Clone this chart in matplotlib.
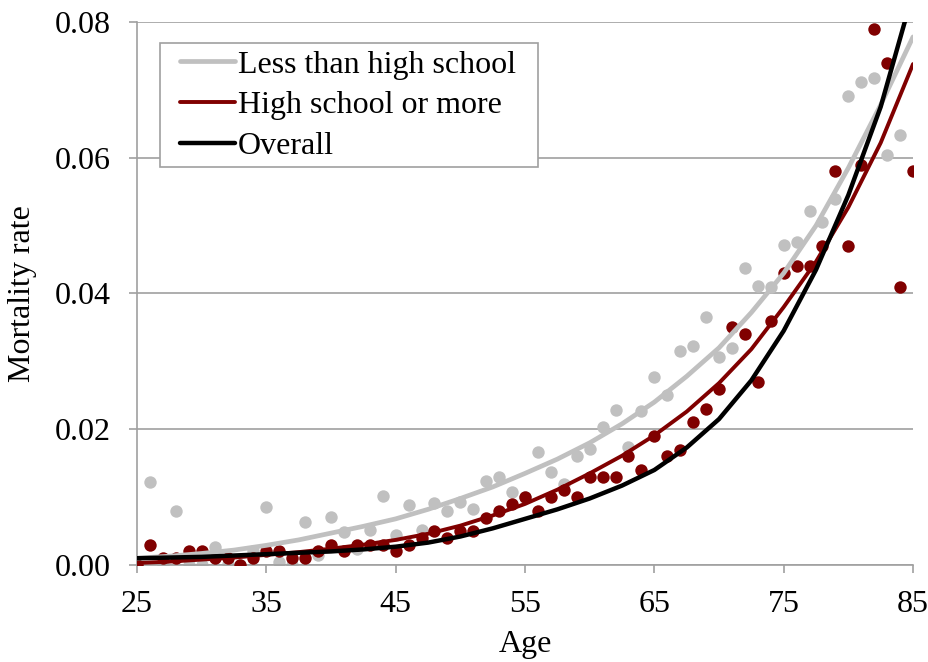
#!/usr/bin/env python3
"""Mortality rate by age and education: scatter of yearly rates plus trend curves."""

import matplotlib

matplotlib.use("Agg")
import matplotlib.pyplot as plt
from matplotlib.patches import Rectangle
from matplotlib.ticker import FormatStrFormatter

# scatter data
ages_less = list(range(25, 85))
rate_less = [
    0.0000, 0.0123, 0.0000, 0.0079, 0.0000, 0.0000, 0.0027, 0.0002, 0.0000, 0.0020,
    0.0085, 0.0005, 0.0000, 0.0064, 0.0015, 0.0071, 0.0048, 0.0023, 0.0052, 0.0101,
    0.0044, 0.0088, 0.0051, 0.0092, 0.0079, 0.0093, 0.0082, 0.0124, 0.0130, 0.0108,
    0.0100, 0.0167, 0.0137, 0.0119, 0.0161, 0.0171, 0.0204, 0.0228, 0.0174, 0.0227,
    0.0277, 0.0251, 0.0315, 0.0322, 0.0366, 0.0306, 0.0319, 0.0438, 0.0411, 0.0410,
    0.0472, 0.0476, 0.0521, 0.0506, 0.0539, 0.0691, 0.0711, 0.0718, 0.0604, 0.0634,
]
ages_more = list(range(25, 86))
rate_more = [
    0.0000, 0.0030, 0.0010, 0.0010, 0.0020, 0.0020, 0.0010, 0.0010, 0.0000, 0.0010,
    0.0020, 0.0020, 0.0010, 0.0010, 0.0020, 0.0030, 0.0020, 0.0030, 0.0030, 0.0030,
    0.0020, 0.0030, 0.0040, 0.0050, 0.0040, 0.0050, 0.0050, 0.0070, 0.0080, 0.0090,
    0.0100, 0.0080, 0.0100, 0.0110, 0.0100, 0.0130, 0.0130, 0.0130, 0.0160, 0.0140,
    0.0190, 0.0160, 0.0170, 0.0210, 0.0230, 0.0260, 0.0350, 0.0340, 0.0270, 0.0360,
    0.0430, 0.0440, 0.0440, 0.0470, 0.0580, 0.0470, 0.0590, 0.0790, 0.0740, 0.0410,
    0.0580,
]

# trend curves, values every 2.5 years
curve_ages = [25 + 2.5 * i for i in range(25)]
curve_less = [
    0.0010, 0.0013, 0.0017, 0.0022, 0.0029, 0.0037, 0.0047, 0.0057, 0.0068, 0.0082,
    0.0098, 0.0115, 0.0135, 0.0156, 0.0180, 0.0208, 0.0240, 0.0278, 0.0320, 0.0372,
    0.0430, 0.0500, 0.0585, 0.0678, 0.0778,
]
curve_more = [
    0.0003, 0.0005, 0.0008, 0.0011, 0.0015, 0.0019, 0.0024, 0.0030, 0.0037, 0.0046,
    0.0058, 0.0073, 0.0090, 0.0111, 0.0135, 0.0161, 0.0191, 0.0226, 0.0268, 0.0318,
    0.0380, 0.0447, 0.0527, 0.0622, 0.0738,
]
curve_overall = [
    0.0010, 0.0011, 0.0012, 0.0014, 0.0016, 0.0018, 0.0020, 0.0023, 0.0027, 0.0033,
    0.0042, 0.0054, 0.0068, 0.0082, 0.0098, 0.0117, 0.0140, 0.0173, 0.0215, 0.0272,
    0.0345, 0.0435, 0.0545, 0.0675, 0.0843,
]

x_ticks = [25, 35, 45, 55, 65, 75, 85]
y_ticks = [0.00, 0.02, 0.04, 0.06, 0.08]

GRAY = "#c0c0c0"
RED = "#800000"
AXIS = "#a0a0a0"
FS = 23

plt.rcParams["font.family"] = ["Liberation Serif", "DejaVu Serif"]
plt.rcParams["font.size"] = FS

fig = plt.figure(figsize=(9.29, 6.62), dpi=100)
ax = fig.add_axes([0.1475, 0.1465, 0.8353, 0.8203])

ax.scatter(ages_less, rate_less, s=80, color=GRAY, zorder=2, linewidths=0)
ax.scatter(ages_more, rate_more, s=80, color=RED, zorder=3, linewidths=0)

l1, = ax.plot(curve_ages, curve_less, color=GRAY, lw=3.4, zorder=4,
              solid_capstyle="round", label="Less than high school")
l2, = ax.plot(curve_ages, curve_more, color=RED, lw=2.8, zorder=4,
              solid_capstyle="round", label="High school or more")
l3, = ax.plot(curve_ages, curve_overall, color="black", lw=3.2, zorder=5,
              solid_capstyle="round", label="Overall")

ax.set_xlim(25, 85)
ax.set_ylim(0, 0.08)
ax.set_xticks(x_ticks)
ax.set_yticks(y_ticks)
ax.yaxis.set_major_formatter(FormatStrFormatter("%.2f"))
ax.grid(axis="y", color=AXIS, lw=1.2, zorder=0)
ax.set_axisbelow(True)

for side in ("top", "right"):
    ax.spines[side].set_visible(False)
for side in ("left", "bottom"):
    ax.spines[side].set_color(AXIS)
    ax.spines[side].set_linewidth(1.2)
ax.tick_params(axis="both", direction="out", length=6, width=1.2, color=AXIS,
               labelsize=FS)
ax.tick_params(axis="y", pad=13)
ax.tick_params(axis="x", pad=12)

ax.set_xlabel("Age", fontsize=FS, labelpad=8)
ax.set_ylabel("Mortality rate", fontsize=FS, labelpad=13)

# Excel-style legend box: wider side padding than matplotlib's frame gives
frame = Rectangle((0.0296, 0.733), 0.4872, 0.2283, transform=ax.transAxes,
                  facecolor="white", edgecolor=AXIS, lw=1.2, zorder=6, clip_on=False)
ax.add_patch(frame)
leg = ax.legend(handles=[l1, l2, l3], loc="upper left", bbox_to_anchor=(0.0485, 0.958),
                fontsize=FS, frameon=False, handlelength=1.72,
                handletextpad=0.08, labelspacing=0.36, borderpad=0.17, borderaxespad=0)
leg.set_zorder(7)

fig.savefig("out.png", dpi=100)
